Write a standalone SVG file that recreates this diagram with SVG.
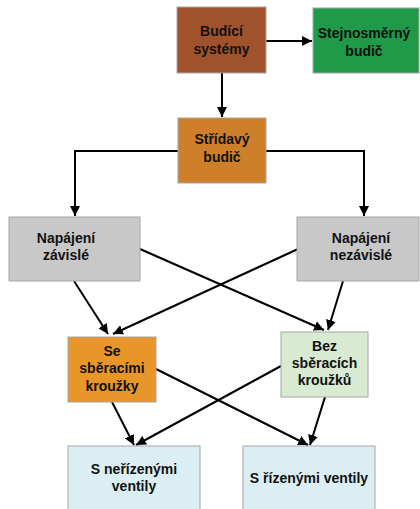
<svg xmlns="http://www.w3.org/2000/svg" width="420" height="509" viewBox="0 0 420 509">
  <defs>
    <marker id="arrow" viewBox="0 0 10 10" refX="10" refY="5" markerWidth="5" markerHeight="5" markerUnits="strokeWidth" orient="auto">
      <path d="M0,0 L10,5 L0,10 z" fill="#000"/>
    </marker>
    <style>
      .box { stroke: #a6a6a6; stroke-width: 1; }
      .lbl { font-family: "Liberation Sans", Arial, sans-serif; font-size: 14px; font-weight: bold; fill: #111; text-anchor: middle; }
      .conn { fill: none; stroke: #000; stroke-width: 2; marker-end: url(#arrow); }
    </style>
  </defs>
  <rect width="420" height="509" fill="#fff"/>

  <g id="connectors">
    <line class="conn" x1="266" y1="41" x2="312" y2="41"/>
    <line class="conn" x1="222" y1="73" x2="222" y2="117"/>
    <polyline class="conn" points="178,151 75,151 75,216"/>
    <polyline class="conn" points="266,151 364,151 364,216"/>
    <line class="conn" x1="74" y1="281" x2="108" y2="334"/>
    <line class="conn" x1="298" y1="249" x2="113" y2="334"/>
    <line class="conn" x1="140" y1="249" x2="324" y2="330"/>
    <line class="conn" x1="343" y1="281" x2="328" y2="330"/>
    <line class="conn" x1="112" y1="402" x2="134" y2="445"/>
    <line class="conn" x1="281" y1="366" x2="136" y2="445"/>
    <line class="conn" x1="156" y1="369" x2="308" y2="445"/>
    <line class="conn" x1="325" y1="397" x2="310" y2="445"/>
  </g>

  <g id="budici-systemy">
    <rect class="box" x="177" y="7" width="89" height="66" fill="#a0522d"/>
    <text class="lbl" x="221.5" y="36">Budící</text>
    <text class="lbl" x="221.5" y="54">systémy</text>
  </g>

  <g id="stejnosmerny-budic">
    <rect class="box" x="313" y="8" width="106" height="65" fill="#1f9a48"/>
    <text class="lbl" x="364" y="38">Stejnosměrný</text>
    <text class="lbl" x="364" y="56">budič</text>
  </g>

  <g id="stridavy-budic">
    <rect class="box" x="178" y="118" width="88" height="65" fill="#cd7f2a"/>
    <text class="lbl" x="222" y="144">Střídavý</text>
    <text class="lbl" x="222" y="162">budič</text>
  </g>

  <g id="napajeni-zavisle">
    <rect class="box" x="9" y="217" width="131" height="64" fill="#c8c8c8"/>
    <text class="lbl" x="66" y="243">Napájení</text>
    <text class="lbl" x="66" y="260">závislé</text>
  </g>

  <g id="napajeni-nezavisle">
    <rect class="box" x="297" y="217" width="122" height="64" fill="#c8c8c8"/>
    <text class="lbl" x="361" y="243">Napájení</text>
    <text class="lbl" x="361" y="260">nezávislé</text>
  </g>

  <g id="se-sberacimi-krouzky">
    <rect class="box" x="68" y="337" width="88" height="65" fill="#e8962a"/>
    <text class="lbl" x="112" y="356">Se</text>
    <text class="lbl" x="112" y="373">sběracími</text>
    <text class="lbl" x="112" y="391">kroužky</text>
  </g>

  <g id="bez-sberacich-krouzku">
    <rect class="box" x="281" y="332" width="87" height="65" fill="#d9ead3"/>
    <text class="lbl" x="324.5" y="351">Bez</text>
    <text class="lbl" x="324.5" y="368">sběracích</text>
    <text class="lbl" x="324.5" y="385">kroužků</text>
  </g>

  <g id="s-nerizenymi-ventily">
    <rect class="box" x="68" y="446" width="132" height="70" fill="#dbeef4"/>
    <text class="lbl" x="134" y="474">S neřízenými</text>
    <text class="lbl" x="134" y="491">ventily</text>
  </g>

  <g id="s-rizenymi-ventily">
    <rect class="box" x="243" y="446" width="132" height="70" fill="#dbeef4"/>
    <text class="lbl" x="309" y="483">S řízenými ventily</text>
  </g>
</svg>
